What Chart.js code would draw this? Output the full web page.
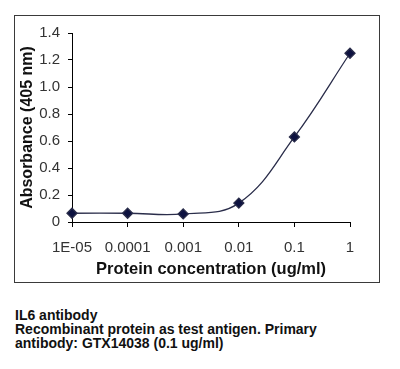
<!DOCTYPE html>
<html>
<head>
<meta charset="utf-8">
<script src="https://cdn.jsdelivr.net/npm/chart.js@4/dist/chart.umd.min.js"></script>
<style>
  body { margin: 0; background: #fff; width: 400px; height: 369px; position: relative; font-family: "Liberation Sans", Arial, sans-serif; }
  #box { position: absolute; left: 14px; top: 15px; width: 364px; height: 266px; border: 1.5px solid #3a3a3a; }
  #wrap { position: absolute; left: 0; top: 0; width: 364px; height: 266px; }
  #caption { position: absolute; left: 15px; top: 308px; font-size: 14px; font-weight: bold; line-height: 14px; color: #111; }
</style>
</head>
<body>
<div id="box"><div id="wrap"><canvas id="myChart"></canvas></div></div>
<div id="caption">IL6 antibody<br>Recombinant protein as test antigen. Primary<br>antibody: GTX14038 (0.1 ug/ml)</div>
<script>
const categories = ['1E-05', '0.0001', '0.001', '0.01', '0.1', '1'];
const absorbance = [0.065, 0.065, 0.06, 0.14, 0.63, 1.25];
const yTicks = { min: 0, max: 1.4, step: 0.2 };

const ctx = document.getElementById('myChart').getContext('2d');
new Chart(ctx, {
  type: 'line',
  data: {
    labels: categories,
    datasets: [{
      label: 'Absorbance',
      data: absorbance,
      borderColor: '#2a2d4a',
      backgroundColor: '#0d1240',
      borderWidth: 1.3,
      tension: 0.4,
      pointStyle: 'rectRot',
      pointRadius: 5,
      pointHoverRadius: 5
    }]
  },
  options: {
    responsive: true,
    maintainAspectRatio: false,
    animation: false,
    layout: { padding: { left: 0, right: 29, top: 12, bottom: 0 } },
    plugins: { legend: { display: false }, tooltip: { enabled: false } },
    scales: {
      x: {
        type: 'category',
        offset: false,
        afterFit: (scale) => { scale.height = 60; },
        grid: { drawOnChartArea: false, drawTicks: true, tickLength: 5, color: '#000' },
        border: { color: '#000', width: 1 },
        ticks: { color: '#333', font: { size: 15, family: 'Liberation Sans' }, padding: 12, maxRotation: 0, autoSkip: false },
        title: { display: true, text: 'Protein concentration (ug/ml)', color: '#111', font: { size: 16.5, weight: 'bold', family: 'Liberation Sans' }, padding: { top: 0, bottom: 3 } }
      },
      y: {
        min: yTicks.min,
        max: yTicks.max,
        afterFit: (scale) => { scale.width = 57; },
        ticks: { stepSize: yTicks.step, color: '#333', font: { size: 15, family: 'Liberation Sans' }, padding: 8 },
        grid: { drawOnChartArea: false, drawTicks: true, tickLength: 4, color: '#000' },
        border: { color: '#000', width: 1 },
        title: { display: true, text: 'Absorbance (405 nm)', color: '#111', font: { size: 16, weight: 'bold', family: 'Liberation Sans' }, padding: { top: 3, bottom: 0 } }
      }
    }
  }
});
</script>
</body>
</html>
